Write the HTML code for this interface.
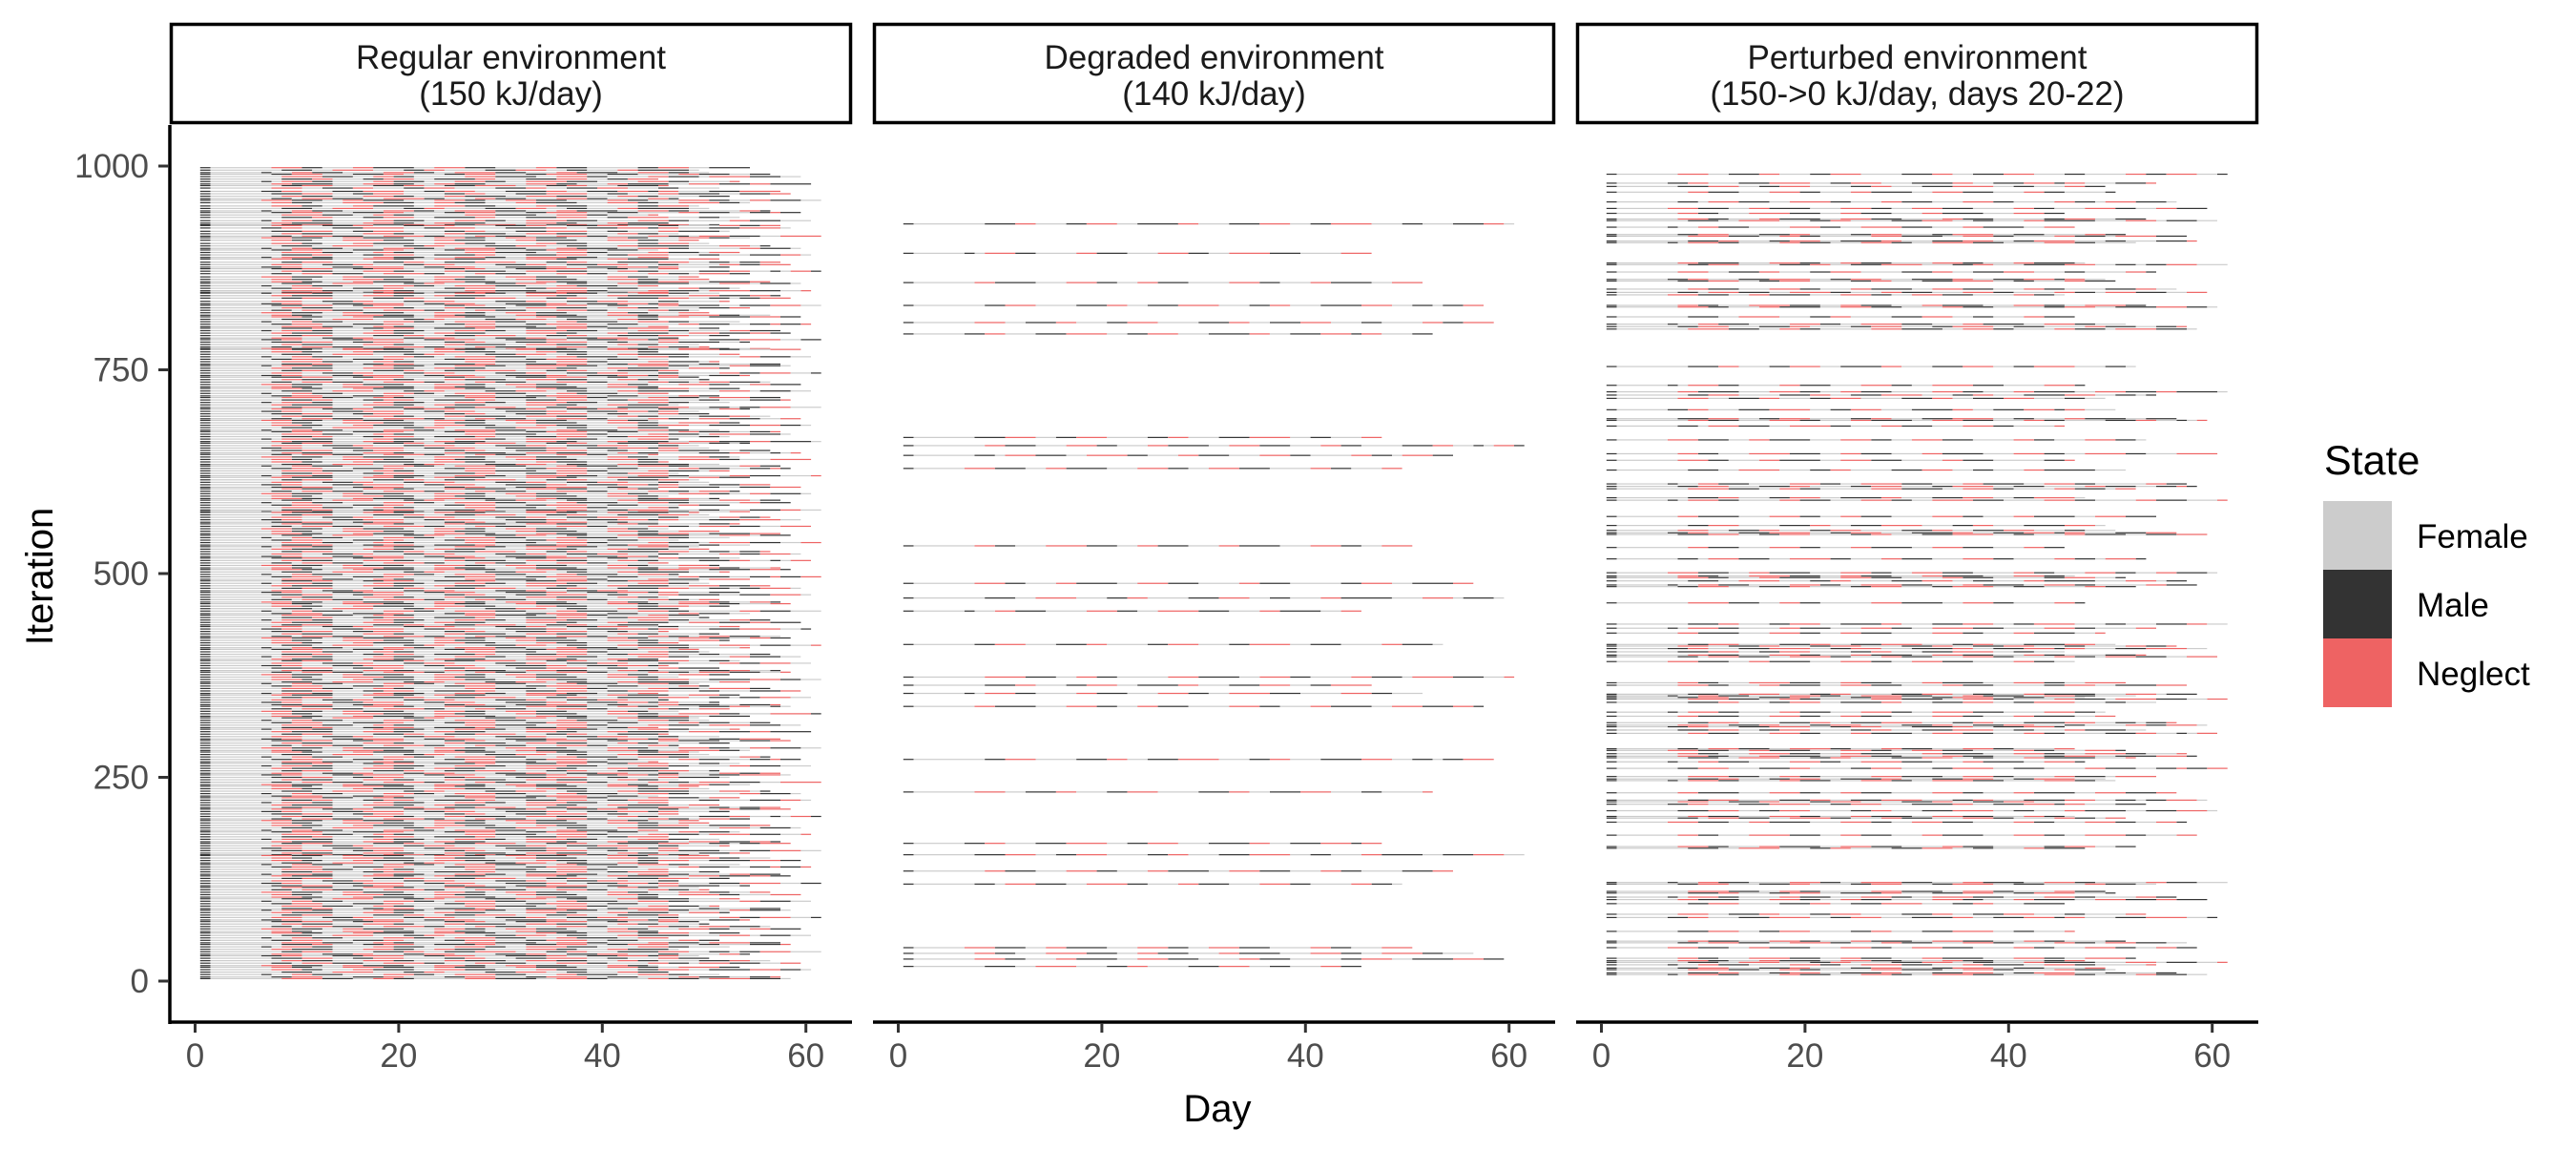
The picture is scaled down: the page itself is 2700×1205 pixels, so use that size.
<!DOCTYPE html>
<html><head><meta charset="utf-8"><style>
html,body{margin:0;padding:0;background:#fff;}
svg text{font-family:"Liberation Sans",Arial,sans-serif;}
</style></head>
<body>
<svg id="chart" width="2700" height="1200" viewBox="0 0 2700 1200" xmlns="http://www.w3.org/2000/svg">
<rect width="2700" height="1200" fill="#fff"/>
<g id="strips"></g>
<g id="tiles"></g>
<g id="axes"></g>
<text x="0" y="0" transform="translate(55,604) rotate(-90)" text-anchor="middle" font-size="40" fill="#000">Iteration</text>
<text x="1276" y="1175" text-anchor="middle" font-size="40" fill="#000">Day</text>
<g>
<text x="2436" y="497" font-size="43" fill="#000">State</text>
<rect x="2435" y="525" width="72" height="72" fill="#cccccc"/>
<rect x="2435" y="597" width="72" height="72" fill="#333333"/>
<rect x="2435" y="669" width="72" height="72" fill="#ee6363"/>
<text x="2533" y="574" font-size="35" fill="#000">Female</text>
<text x="2533" y="646" font-size="35" fill="#000">Male</text>
<text x="2533" y="718" font-size="35" fill="#000">Neglect</text>
</g>
</svg>
<script>
const panelTitles = [["Regular environment","(150 kJ/day)"],["Degraded environment","(140 kJ/day)"],["Perturbed environment","(150->0 kJ/day, days 20-22)"]];
const xTicks = [0,20,40,60];
const yTicks = [0,250,500,750,1000];
const patterns = [
"M1F6N3M2F3N2M4F2N3M3F4N2M3F5M2N3F2M4",
"M1F7M3F2N4F3M2N2F4M3N3F2M2F3N2M5F3N3",
"M1F5M1F2N2M3F4N3M2F2N4M3F3N2M4F2N3M2F3",
"M1F6M2N3F3M3N2F4M2N3F3M2N4F2M3F4N2M3F2M2N1",
"M1F7N4M3F2N2M2F5N3M4F2N3M2F4N2M3",
"M1F6F1M3N2F3M2N3F2M4N2F3M3N3F2M2N4F3M2F2",
"M1F5M1F1N3M2F4N2M3F3N3M2F2N4M3F3",
"M1F6N2M4F3N3M2F2N2M3F4N3M2F3N2M4F2N3M3",
"M1F7M2N3F4M3N2F2M3N4F3M2N2F3M4N3F2M2",
"M1F6N3F2M3N2F3M2N3F4M3N2F2M3N3F3M2F4N2M2",
"M1F5M2N2F3M3N4F2M2N3F3M4N2F2M3N3",
"M1F6M3N3F2M2N3F4M2N2F3M3N4F2M2F3N2M4F2",
"M1F7N2M3F3N3M2F3N2M4F2N3M3F3N2M2F4M3N2F2M1",
"M1F6M2F1N3M3F2N4M2F3N2M3F3N3M2F4N2",
"M1F5N3M3F2N2M4F3N3M2F2N3M3F4N2M2F3N3M2F2",
"M1F6N2M2F3N4M3F2N2M3F3N2M4F3N3M2F2N2"
];
const rowEnds = [54,47,58,51,60,45,56,49,61,52,57,46,53,59,50];
const regularIters = [998,995,992,990,987,984,981,978,976,973,969,966,963,960,958,955,951,948,945,943,940,937,933,930,928,927,924,920,917,914,912,909,905,902,899,897,894,891,888,886,882,879,876,874,871,868,864,861,858,856,853,850,847,845,844,841,838,834,831,829,826,823,820,817,815,812,809,806,803,801,798,795,792,789,787,784,781,778,776,775,772,769,766,763,760,757,755,752,749,746,743,741,738,735,732,729,727,724,721,718,716,713,710,707,704,702,699,696,693,690,688,685,682,679,676,674,671,668,665,662,660,657,654,651,648,646,643,640,637,634,632,629,626,623,620,618,615,612,609,606,604,601,598,595,592,590,587,584,581,578,576,575,572,569,566,563,561,558,555,552,549,547,544,541,538,535,533,530,527,524,521,519,516,513,510,507,505,502,499,496,493,491,488,485,482,479,477,474,471,468,465,463,460,457,454,451,449,446,443,440,437,435,432,429,426,423,421,418,415,412,409,407,404,401,398,395,393,390,387,384,381,379,376,373,370,367,365,362,359,356,353,351,348,345,342,339,337,334,331,328,325,323,320,317,314,311,309,306,303,300,297,295,292,289,286,283,281,278,275,272,269,267,264,261,258,255,253,250,247,244,241,239,236,233,230,227,225,222,219,216,213,211,208,205,202,199,197,194,191,188,185,183,180,177,174,171,169,166,163,160,157,155,154,151,148,145,143,140,137,134,131,129,126,123,120,117,115,112,109,106,103,101,98,95,92,89,87,84,81,78,75,73,70,67,64,61,59,56,53,50,47,45,42,39,36,33,31,28,25,22,19,17,14,11,8,5,3];
const degradedIters = [929,893,857,829,808,794,667,657,645,629,534,488,470,454,413,373,363,353,337,272,232,169,155,135,119,41,34,27,18];
const perturbedIters = [990,979,975,968,956,948,942,935,933,925,916,914,908,906,881,879,870,861,859,849,845,842,829,827,815,806,803,800,754,731,723,719,715,701,690,688,681,664,647,639,627,610,607,604,593,590,570,559,553,550,548,532,518,501,497,495,491,486,484,464,438,433,427,413,411,408,404,400,398,392,366,363,352,350,348,346,342,330,325,317,314,312,308,304,285,283,279,276,274,269,261,251,248,246,231,222,220,217,209,202,200,195,179,165,163,121,119,110,108,103,100,95,82,78,61,49,47,41,28,25,23,20,16,14,10,8];
const panelIters = [regularIters, degradedIters, perturbedIters];
const panelOffset = [0,5,9];

const NS = "http://www.w3.org/2000/svg";
const panelX0 = [178,915,1652], panelW = 715;
const colors = {F:"#cccccc", M:"#333333", N:"#ee6363"};
function xs(p,d){ return panelX0[p] + 26.5 + d*10.67; }
function ys(i){ return 1028 - i*0.854; }
function mk(tag, attrs, parent){ const e=document.createElementNS(NS,tag); for(const k in attrs) e.setAttribute(k,attrs[k]); parent.appendChild(e); return e; }
function parsePattern(s){ const out=[]; const re=/([FMN])(\d+)/g; let m; while((m=re.exec(s))){ for(let k=0;k<+m[2];k++) out.push(m[1]); } return out; }
const parsed = patterns.map(parsePattern);

const strips = document.getElementById('strips');
const tiles = document.getElementById('tiles');
const axes = document.getElementById('axes');

for(let p=0;p<3;p++){
  const r = mk('rect',{x:panelX0[p]+1.5,y:25.5,width:panelW-3,height:103,fill:'#fff',stroke:'#000','stroke-width':3.5},strips);
  
  
  for(let l=0;l<2;l++){
    const t = mk('text',{x:panelX0[p]+panelW/2,y:72+l*38,'text-anchor':'middle','font-size':35,fill:'#1a1a1a'},strips);
    t.textContent = panelTitles[p][l];
    
    
  }
  const g = mk('g',{},tiles);
  
  
  panelIters[p].forEach((it,ri)=>{
    const base = parsed[(ri+panelOffset[p])%parsed.length];
    const end = rowEnds[(ri*7+p*4)%rowEnds.length];
    const seq = base.slice();
    let k=7; while(seq.length<end){ seq.push(base[k]); k++; }
    seq.length = end;
    const y = ys(it) - 0.6;
    let d=0;
    while(d<seq.length){
      let e=d; while(e+1<seq.length && seq[e+1]===seq[d]) e++;
      const x1=xs(p,d+1-0.5), x2=xs(p,e+1+0.5);
      const rr = mk('rect',{x:x1.toFixed(1),y:y.toFixed(2),width:(x2-x1).toFixed(1),height:1.2,fill:colors[seq[d]]},g);
      
      
      d=e+1;
    }
  });
  const ax = mk('line',{x1:panelX0[p],x2:panelX0[p]+panelW,y1:1071,y2:1071,stroke:'#000','stroke-width':3.5},axes);
  
  
  xTicks.forEach(v=>{
    const tk = mk('line',{x1:xs(p,v),x2:xs(p,v),y1:1072,y2:1082,stroke:'#333','stroke-width':3},axes);
    
    
    const tl = mk('text',{x:xs(p,v),y:1118,'text-anchor':'middle','font-size':35,fill:'#4d4d4d'},axes);
    tl.textContent = v;
    
    
  });
}
const yl = mk('line',{x1:178,x2:178,y1:131,y2:1073,stroke:'#000','stroke-width':3.5},axes);


yTicks.forEach(v=>{
  const tk = mk('line',{x1:166,x2:177,y1:ys(v),y2:ys(v),stroke:'#333','stroke-width':3},axes);
  
  
  const tl = mk('text',{x:156,y:ys(v)+12,'text-anchor':'end','font-size':35,fill:'#4d4d4d'},axes);
  tl.textContent = v;
  
  
});
</script>
</body></html>
